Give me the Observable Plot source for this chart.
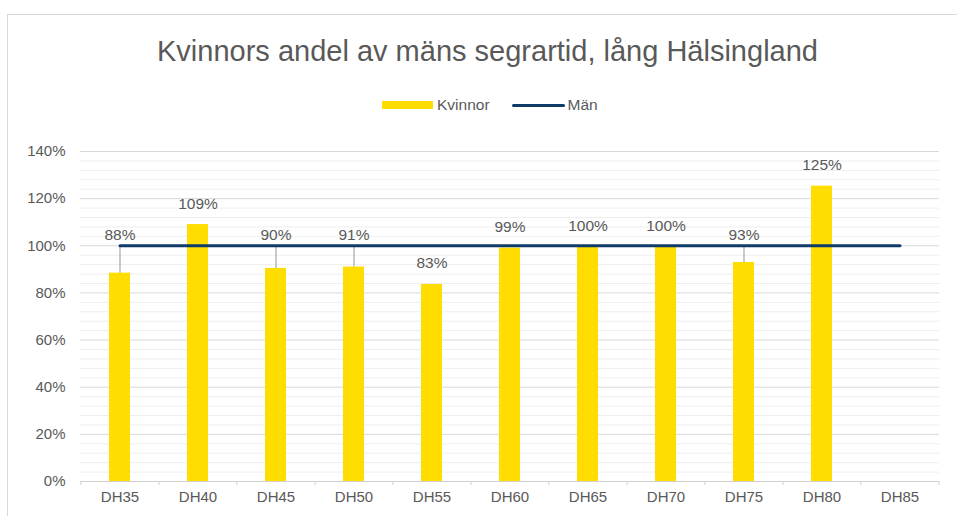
<!DOCTYPE html>
<html>
<head>
<meta charset="utf-8">
<script src="https://cdn.jsdelivr.net/npm/d3@7"></script>
<script src="https://cdn.jsdelivr.net/npm/@observablehq/plot@0.6"></script>
<style>
  html, body { margin: 0; padding: 0; width: 957px; height: 516px; overflow: hidden; background: #fff; }
  body { font-family: "Liberation Sans", Arial, sans-serif; color: #595959; position: relative; }
  #frame { position: absolute; left: 7px; top: 14px; width: 1000px; height: 600px; border: 1px solid #d9d9d9; box-sizing: border-box; }
  #title { position: absolute; left: 7px; width: 961px; top: 37px; text-align: center; font-size: 29px; line-height: 29px; color: #595959; white-space: nowrap; }
  #legend { position: absolute; left: 382px; top: 97px; height: 16px; display: flex; align-items: center; font-size: 15.5px; line-height: 16px; color: #595959; }
  #legend .sw { width: 51px; height: 8px; background: #FFDD00; margin-right: 4px; }
  #legend .ln { width: 53px; height: 3px; background: #0e3b68; margin-left: 22px; margin-right: 3px; border-radius: 1.5px; }
  #chart { position: absolute; left: 0; top: 130px; }
</style>
</head>
<body>
<div id="frame"></div>
<div id="title">Kvinnors andel av mäns segrartid, lång Hälsingland</div>
<div id="legend"><div class="sw"></div><span>Kvinnor</span><div class="ln"></div><span>Män</span></div>
<div id="chart"></div>
<script>
const categories = ["DH35","DH40","DH45","DH50","DH55","DH60","DH65","DH70","DH75","DH80","DH85"];
const womenValues = [0.884, 1.09, 0.904, 0.91, 0.836, 0.99, 0.996, 0.996, 0.929, 1.253, null];
const womenLabels = ["88%","109%","90%","91%","83%","99%","100%","100%","93%","125%", null];
const menValues = [1,1,1,1,1,1,1,1,1,1,1];
const yTicks = [0, 0.2, 0.4, 0.6, 0.8, 1.0, 1.2, 1.4];
const yTickLabels = ["0%","20%","40%","60%","80%","100%","120%","140%"];

const W = 957, H = 386;
const mL = 80, mR = 18, mT = 21, mB = 35;
const step = (W - mL - mR) / categories.length;
const pxPerUnit = (H - mT - mB) / 1.4;

const women = categories.map((c, i) => ({cat: c, v: womenValues[i], label: womenLabels[i]})).filter(d => d.v != null);
const men = categories.map((c, i) => ({cat: c, v: menValues[i]}));
// labels whose default position (21px above bar) would collide with the Män line are lifted above it
const lineVal = menValues[0];
women.forEach(d => {
  const labelPx = d.v * pxPerUnit + 21;
  d.moved = d.v < lineVal && Math.abs(labelPx - lineVal * pxPerUnit) < 12;
});
const minorTicks = d3.range(0, 36).map(i => i * 0.04).filter(t => !yTicks.some(m => Math.abs(m - t) < 1e-9));
const fmt = new Map(yTicks.map((t, i) => [t, yTickLabels[i]]));

const plot = Plot.plot({
  width: W, height: H,
  marginLeft: mL, marginRight: mR, marginTop: mT, marginBottom: mB,
  style: {fontFamily: '"Liberation Sans", Arial, sans-serif', fontSize: "15px", color: "#595959", background: "transparent"},
  x: {type: "band", domain: categories, paddingInner: 0.73, paddingOuter: 0.365, axis: null},
  y: {domain: [0, 1.4], axis: null},
  marks: [
    Plot.ruleY(minorTicks, {y: d => d, stroke: "#eeeeee", strokeWidth: 1}),
    Plot.ruleY(yTicks.slice(1), {y: d => d, stroke: "#d9d9d9", strokeWidth: 1}),
    Plot.ruleY([0], {stroke: "#d0d0d0", strokeWidth: 1}),
    Plot.ruleX(categories, {x: d => d, dx: -step / 2, y1: 0, y2: -4 / pxPerUnit, stroke: "#d0d0d0", clip: false}),
    Plot.ruleX([categories[categories.length - 1]], {x: d => d, dx: step / 2, y1: 0, y2: -4 / pxPerUnit, stroke: "#d0d0d0", clip: false}),
    Plot.axisY({ticks: yTicks, tickSize: 0, tickPadding: 15, label: null, tickFormat: d => fmt.get(d), fill: "#595959", fontSize: 15}),
    Plot.axisX({tickSize: 0, tickPadding: 10, label: null, fill: "#595959", fontSize: 15}),
    Plot.barY(women, {x: "cat", y: "v", fill: "#FFDD00"}),
    Plot.ruleX(women.filter(d => d.moved), {x: "cat", y1: "v", y2: () => lineVal, stroke: "#a6a6a6", strokeWidth: 1.2}),
    Plot.line(men, {x: "cat", y: "v", stroke: "#0e3b68", strokeWidth: 3, strokeLinecap: "round"}),
    Plot.text(women.filter(d => !d.moved), {x: "cat", y: "v", text: "label", dy: -21, lineAnchor: "middle", fill: "#595959", fontSize: 15.5}),
    Plot.text(women.filter(d => d.moved), {x: "cat", y: () => lineVal, text: "label", dy: -11, lineAnchor: "middle", fill: "#595959", fontSize: 15.5})
  ]
});
document.getElementById("chart").appendChild(plot);
</script>
</body>
</html>
